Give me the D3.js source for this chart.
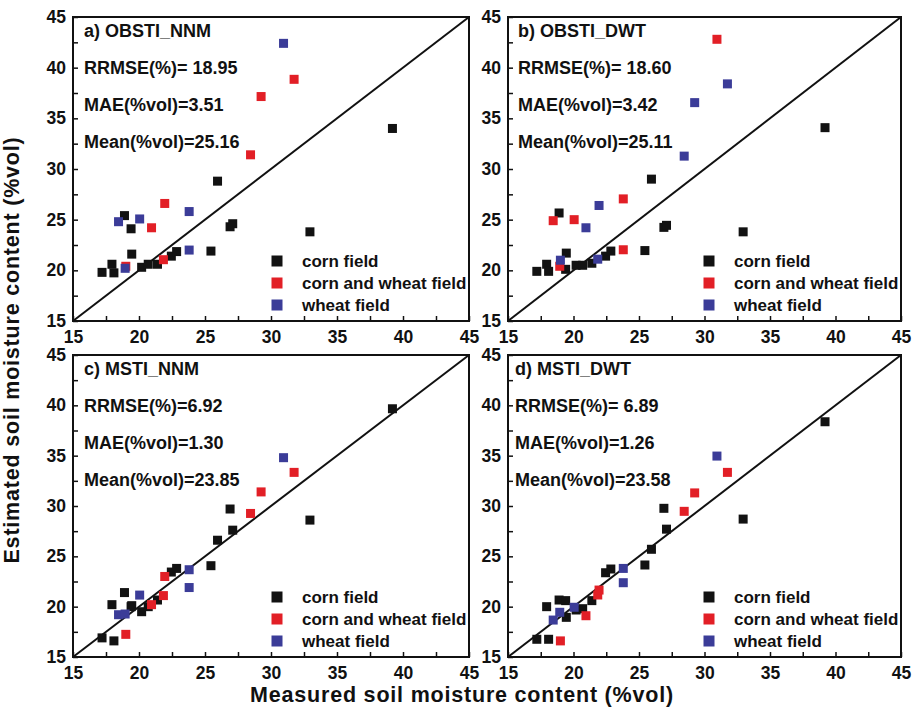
<!DOCTYPE html>
<html>
<head>
<meta charset="utf-8">
<script src="https://cdn.jsdelivr.net/npm/d3@7"></script>
<style>
  body { margin: 0; background: #fff; }
  svg { display: block; }
  text { font-family: "Liberation Sans", Arial, sans-serif; font-weight: bold; fill: #111; }
</style>
</head>
<body>
<svg id="chart" width="913" height="707"></svg>
<script>
// Legend entries and colours
const seriesNames = ["corn field", "corn and wheat field", "wheat field"];
const seriesColors = ["#121212", "#e21f26", "#3b3c98"];

// Measured soil moisture (%vol) for the three groups of sites
const measuredCorn = [17.2, 17.95, 18.1, 18.9, 19.4, 19.45, 20.2, 20.7, 21.4, 22.45, 22.85, 25.45, 25.95, 26.9, 27.1, 32.95, 39.2];
const measuredMixed = [19.0, 20.95, 21.85, 21.95, 28.45, 29.25, 31.75];
const measuredWheat = [18.45, 18.95, 20.05, 23.8, 23.8, 30.95];

// a) OBSTI_NNM estimates
const aCorn = [19.8, 20.6, 19.75, 25.4, 24.1, 21.6, 20.3, 20.6, 20.6, 21.4, 21.85, 21.9, 28.8, 24.3, 24.6, 23.8, 34.0];
const aMixed = [20.4, 24.2, 21.05, 26.6, 31.4, 37.15, 38.85];
const aWheat = [24.8, 20.2, 25.07, 25.8, 22.0, 42.4];

// b) OBSTI_DWT estimates
const bCorn = [19.9, 20.6, 19.9, 25.66, 20.1, 21.7, 20.5, 20.5, 20.7, 21.4, 21.9, 21.95, 29.0, 24.24, 24.44, 23.8, 34.08];
const bRedSet = [24.9, 20.4, 25.0, 27.05, 22.03, 42.8];      // plotted against measuredWheat
const bBlueSet = [21.0, 24.2, 21.1, 26.4, 31.27, 36.55, 38.4]; // plotted against measuredMixed

// c) MSTI_NNM estimates
const cCorn = [16.9, 20.2, 16.6, 21.4, 20.0, 20.1, 19.5, 20.0, 20.66, 23.44, 23.8, 24.07, 26.6, 29.7, 27.6, 28.6, 39.66];
const cMixed = [17.25, 20.2, 21.1, 23.0, 29.26, 31.4, 33.34];
const cWheat = [19.2, 19.27, 21.15, 23.67, 21.9, 34.8];

// d) MSTI_DWT estimates
const dCorn = [16.76, 20.0, 16.76, 20.66, 20.6, 18.94, 19.67, 19.8, 20.6, 23.37, 23.74, 24.14, 25.7, 29.77, 27.7, 28.7, 38.37];
const dMixed = [16.6, 19.1, 21.16, 21.65, 29.47, 31.3, 33.34];
const dWheat = [18.67, 19.44, 19.94, 23.8, 22.38, 34.96];

// Panel annotations
const panelTitles = ["a) OBSTI_NNM", "b) OBSTI_DWT", "c) MSTI_NNM", "d) MSTI_DWT"];
const rrmseText = ["RRMSE(%)= 18.95", "RRMSE(%)= 18.60", "RRMSE(%)=6.92", "RRMSE(%)= 6.89"];
const maeText = ["MAE(%vol)=3.51", "MAE(%vol)=3.42", "MAE(%vol)=1.30", "MAE(%vol)=1.26"];
const meanText = ["Mean(%vol)=25.16", "Mean(%vol)=25.11", "Mean(%vol)=23.85", "Mean(%vol)=23.58"];

// Axis ticks
const majorTicks = [15, 20, 25, 30, 35, 40, 45];
const minorTicks = [17.5, 22.5, 27.5, 32.5, 37.5, 42.5];
const axisDomain = [15, 45];

const panels = [
  { x0: 73,  x1: 469, y0: 17,  y1: 321, tx: 11,
    series: [[measuredCorn, aCorn, 0], [measuredMixed, aMixed, 1], [measuredWheat, aWheat, 2]] },
  { x0: 508, x1: 901, y0: 17,  y1: 321, tx: 10,
    series: [[measuredCorn, bCorn, 0], [measuredWheat, bRedSet, 1], [measuredMixed, bBlueSet, 2]] },
  { x0: 73,  x1: 469, y0: 355, y1: 657, tx: 11,
    series: [[measuredCorn, cCorn, 0], [measuredMixed, cMixed, 1], [measuredWheat, cWheat, 2]] },
  { x0: 508, x1: 901, y0: 355, y1: 657, tx: 7,
    series: [[measuredCorn, dCorn, 0], [measuredMixed, dMixed, 1], [measuredWheat, dWheat, 2]] }
];

const svg = d3.select("#chart");
const markerSize = 9;

panels.forEach((p, i) => {
  const x = d3.scaleLinear().domain(axisDomain).range([p.x0, p.x1]);
  const y = d3.scaleLinear().domain(axisDomain).range([p.y1, p.y0]);
  const g = svg.append("g");

  // inward minor ticks
  g.append("g").attr("transform", `translate(0,${p.y1})`)
    .call(d3.axisBottom(x).tickValues(minorTicks).tickSize(-5).tickFormat(""))
    .call(a => a.select(".domain").remove());
  g.append("g").attr("transform", `translate(${p.x0},0)`)
    .call(d3.axisLeft(y).tickValues(minorTicks).tickSize(-5).tickFormat(""))
    .call(a => a.select(".domain").remove());

  // major ticks with labels
  const xa = g.append("g").attr("transform", `translate(0,${p.y1})`)
    .call(d3.axisBottom(x).tickValues(majorTicks).tickSize(-5).tickPadding(9.5).tickFormat(d3.format("d")));
  xa.select(".domain").remove();
  const ya = g.append("g").attr("transform", `translate(${p.x0},0)`)
    .call(d3.axisLeft(y).tickValues(majorTicks).tickSize(-5).tickPadding(7).tickFormat(d3.format("d")));
  ya.select(".domain").remove();
  [xa, ya].forEach(a => {
    a.selectAll("text").style("font-size", "17.5px").style("font-family", "'Liberation Sans', Arial, sans-serif").style("font-weight", "bold").attr("fill", "#111");
  });
  g.selectAll("line").attr("stroke", "#111").attr("stroke-width", 1.5);

  // 1:1 line
  g.append("line")
    .attr("x1", x(axisDomain[0])).attr("y1", y(axisDomain[0]))
    .attr("x2", x(axisDomain[1])).attr("y2", y(axisDomain[1]))
    .attr("stroke", "#111").attr("stroke-width", 2);

  // points
  p.series.forEach(([mx, ey, ci]) => {
    g.append("g").selectAll("rect")
      .data(mx.map((v, k) => [v, ey[k]]))
      .join("rect")
      .attr("x", d => x(d[0]) - markerSize / 2)
      .attr("y", d => y(d[1]) - markerSize / 2)
      .attr("width", markerSize).attr("height", markerSize)
      .attr("fill", seriesColors[ci]);
  });

  // frame
  g.append("rect")
    .attr("x", p.x0).attr("y", p.y0)
    .attr("width", p.x1 - p.x0).attr("height", p.y1 - p.y0)
    .attr("fill", "none").attr("stroke", "#111").attr("stroke-width", 2);

  // annotations
  const lines = [panelTitles[i], rrmseText[i], maeText[i], meanText[i]];
  const offs = [19.5, 56.5, 93.5, 130.5];
  lines.forEach((t, k) => {
    g.append("text").attr("x", p.x0 + p.tx).attr("y", p.y0 + offs[k])
      .style("font-size", "18px").text(t);
  });

  // legend
  const lx = p.x1 - 192;
  const rows = [p.y1 - 60, p.y1 - 38, p.y1 - 16];
  seriesNames.forEach((name, k) => {
    g.append("rect").attr("x", lx - 5.5).attr("y", rows[k] - 5.5)
      .attr("width", 11).attr("height", 11).attr("fill", seriesColors[k]);
    g.append("text").attr("x", lx + 25).attr("y", rows[k] + 6)
      .style("font-size", "17px").text(name);
  });
});

// axis titles
svg.append("text")
  .attr("x", 462).attr("y", 702)
  .attr("text-anchor", "middle")
  .style("font-size", "21.5px")
  .style("letter-spacing", "0.8px")
  .text("Measured soil moisture content (%vol)");

svg.append("text")
  .attr("transform", "translate(19,350) rotate(-90)")
  .attr("text-anchor", "middle")
  .style("font-size", "21.5px")
  .style("letter-spacing", "0.8px")
  .text("Estimated soil moisture content (%vol)");
</script>
</body>
</html>
